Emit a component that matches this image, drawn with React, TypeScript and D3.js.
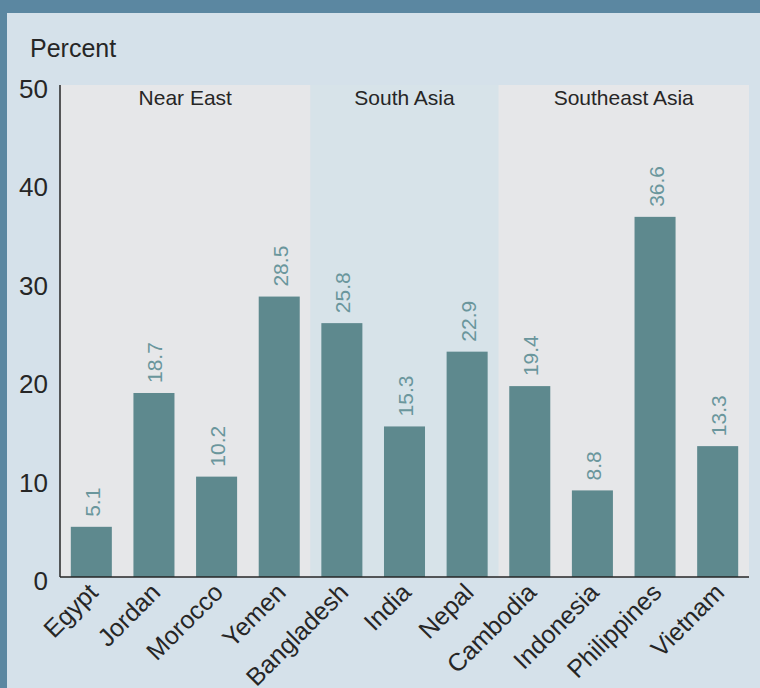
import React from "react";
import * as d3 from "d3";

const categories = ["Egypt", "Jordan", "Morocco", "Yemen", "Bangladesh", "India", "Nepal", "Cambodia", "Indonesia", "Philippines", "Vietnam"];
const values = [5.1, 18.7, 10.2, 28.5, 25.8, 15.3, 22.9, 19.4, 8.8, 36.6, 13.3];
const regionNames = ["Near East", "South Asia", "Southeast Asia"];
const regionFirst = ["Egypt", "Bangladesh", "Cambodia"];
const regionLast = ["Yemen", "Nepal", "Vietnam"];
const yTicks = [0, 10, 20, 30, 40, 50];

const W = 760;
const H = 688;
const left = 60;
const right = 749;
const top = 85;
const bottom = 577;
const FONT = "'Liberation Sans', Arial, sans-serif";
const regionFill = ["#e6e7e9", "#d7e3e9", "#e6e7e9"];

export default function App() {
  const x = d3.scaleBand<string>().domain(categories).range([left, right]).paddingInner(0.345).paddingOuter(0.1725);
  const y = d3.scaleLinear().domain([0, 50]).range([bottom, top]);
  const step = x.step();
  const off = (step * 0.345) / 2;
  return (
    <svg width={W} height={H} style={{ position: "absolute", left: 0, top: 0, display: "block" }} fontFamily={FONT}>
      <rect x={0} y={0} width={W} height={H} fill="#d5e1ea" />
      <rect x={0} y={0} width={W} height={13} fill="#5b87a1" />
      <rect x={0} y={0} width={7} height={H} fill="#5b87a1" />
      {regionNames.map((r, i) => {
        const x0 = (x(regionFirst[i]) as number) - off;
        const x1 = (x(regionLast[i]) as number) + x.bandwidth() + off;
        return (
          <g key={r}>
            <rect x={x0} y={top} width={x1 - x0} height={bottom - top} fill={regionFill[i]} />
            <text x={(x0 + x1) / 2} y={105} textAnchor="middle" fontSize={21} fill="#262626">{r}</text>
          </g>
        );
      })}
      {categories.map((c, i) => {
        const bx = x(c) as number;
        const cx = bx + x.bandwidth() / 2;
        return (
          <g key={c}>
            <rect x={bx} y={y(values[i])} width={x.bandwidth()} height={bottom - y(values[i])} fill="#5e898e" />
            <text transform={`translate(${cx + 1},${y(values[i]) - 10}) rotate(-90)`} fontSize={21} fill="#6a969c" dominantBaseline="central">{values[i].toFixed(1)}</text>
            <text transform={`translate(${cx + 8},${bottom + 17}) rotate(-45)`} textAnchor="end" fontSize={25} fill="#262626">{c}</text>
          </g>
        );
      })}
      <line x1={left} x2={left} y1={top} y2={bottom} stroke="#262626" strokeWidth={1.5} />
      <line x1={left} x2={right} y1={bottom} y2={bottom} stroke="#262626" strokeWidth={1.5} />
      {yTicks.map((t) => (
        <text key={t} x={48} y={y(t) + 13} textAnchor="end" fontSize={26} fill="#262626">{t}</text>
      ))}
      <text x={30} y={57} fontSize={25} fill="#262626">Percent</text>
    </svg>
  );
}
